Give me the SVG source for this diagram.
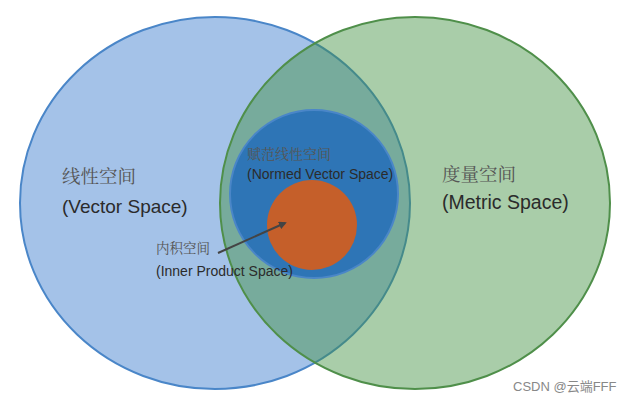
<svg xmlns="http://www.w3.org/2000/svg" width="635" height="405" viewBox="0 0 635 405">
<defs>
<style>
.en{font-family:"Liberation Sans",Arial,sans-serif;fill:#2b2b2b}
.cn{font-family:"Noto Serif CJK SC","Noto Sans CJK SC",serif;fill:#555}
</style>
<marker id="ah" markerWidth="8" markerHeight="8" refX="6" refY="4" orient="auto" markerUnits="userSpaceOnUse">
<path d="M0,0 L8,4 L0,8 Z" fill="#444"/>
</marker>
</defs>
<rect width="635" height="405" fill="#fff"/>
<g id="vector-space">
<ellipse cx="215" cy="203" rx="195" ry="186" fill="#a4c2e8" stroke="#4a86c8" stroke-width="2"/>
</g>
<g id="metric-space">
<ellipse cx="415" cy="203" rx="195" ry="186" fill="#409040" fill-opacity="0.45" stroke="#4f8f4a" stroke-width="2"/>
</g>
<g id="normed-space">
<ellipse cx="314" cy="194" rx="84" ry="84" fill="#2e75b6" stroke="#4a86c8" stroke-width="2"/>
</g>
<g id="inner-product-space">
<circle cx="312" cy="225" r="45" fill="#c55f2a"/>
</g>
<g id="connectors">
<line x1="218" y1="253" x2="285" y2="223" stroke="#444" stroke-width="2" marker-end="url(#ah)"/>
</g>
<g id="labels">
<text class="cn" x="62" y="183" font-size="18.5">线性空间</text>
<text class="en" x="62" y="213" font-size="19">(Vector Space)</text>
<text class="cn" x="442" y="181" font-size="18.5">度量空间</text>
<text class="en" x="442" y="209" font-size="19.5">(Metric Space)</text>
<text class="cn" x="247" y="159" font-size="14">赋范线性空间</text>
<text class="en" x="247" y="179" font-size="14">(Normed Vector Space)</text>
<text class="cn" x="156" y="253" font-size="13.5">内积空间</text>
<text class="en" x="156" y="276" font-size="14">(Inner Product Space)</text>
<text x="513" y="391" font-size="13" font-family="Liberation Sans,'Noto Sans CJK SC',sans-serif" fill="#888">CSDN @云端FFF</text>
</g>
</svg>
